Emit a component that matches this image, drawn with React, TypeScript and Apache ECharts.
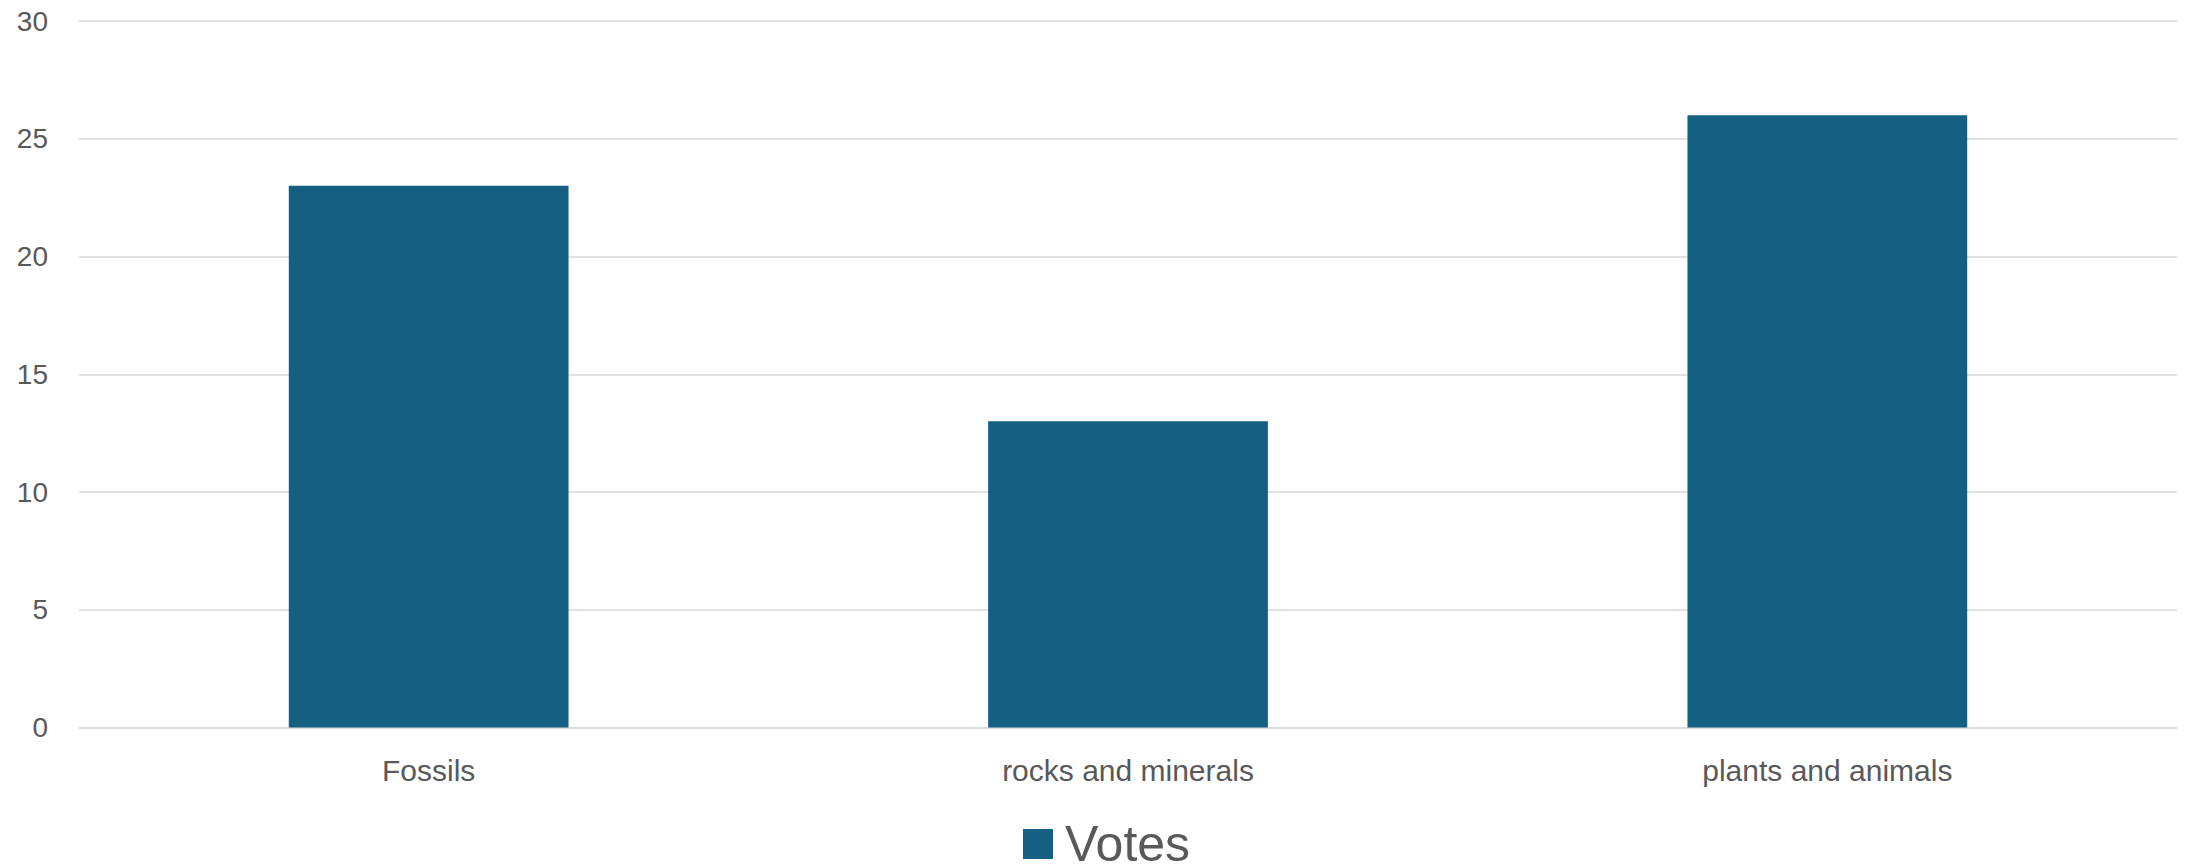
import React, { useEffect, useRef } from "react";
import * as echarts from "echarts";

const categories = ["Fossils", "rocks and minerals", "plants and animals"];
const votes = [23, 13, 26];
const seriesName = "Votes";

export default function App() {
  const ref = useRef<HTMLDivElement>(null);
  useEffect(() => {
    document.body.style.margin = "0";
    const chart = echarts.init(ref.current!, null, { renderer: "svg" });
    chart.setOption({
      animation: false,
      backgroundColor: "#ffffff",
      textStyle: { fontFamily: "Liberation Sans, Arial, sans-serif" },
      grid: { left: 79, right: 11, top: 21, bottom: 140.5, containLabel: false },
      legend: {
        data: [seriesName],
        left: 1018,
        top: 814,
        padding: 5,
        itemWidth: 30,
        itemHeight: 30,
        icon: "rect",
        textStyle: { fontSize: 50, lineHeight: 50, color: "#595959", padding: [0, 0, 0, 7] },
      },
      xAxis: {
        type: "category",
        data: categories,
        axisTick: { show: false },
        axisLine: { lineStyle: { color: "#d9d9d9", width: 1.5 } },
        axisLabel: { fontSize: 30, color: "#595959", margin: 43, verticalAlign: "middle" },
      },
      yAxis: {
        type: "value",
        min: 0,
        max: 30,
        interval: 5,
        axisLine: { show: false },
        axisTick: { show: false },
        splitLine: { lineStyle: { color: "#d9d9d9", width: 1.5 } },
        axisLabel: { fontSize: 28, color: "#595959", margin: 31 },
      },
      series: [
        {
          name: seriesName,
          type: "bar",
          data: votes,
          barWidth: "40%",
          itemStyle: { color: "#156082" },
        },
      ],
    });
    return () => chart.dispose();
  }, []);
  return <div ref={ref} style={{ width: 2188, height: 868 }} />;
}
